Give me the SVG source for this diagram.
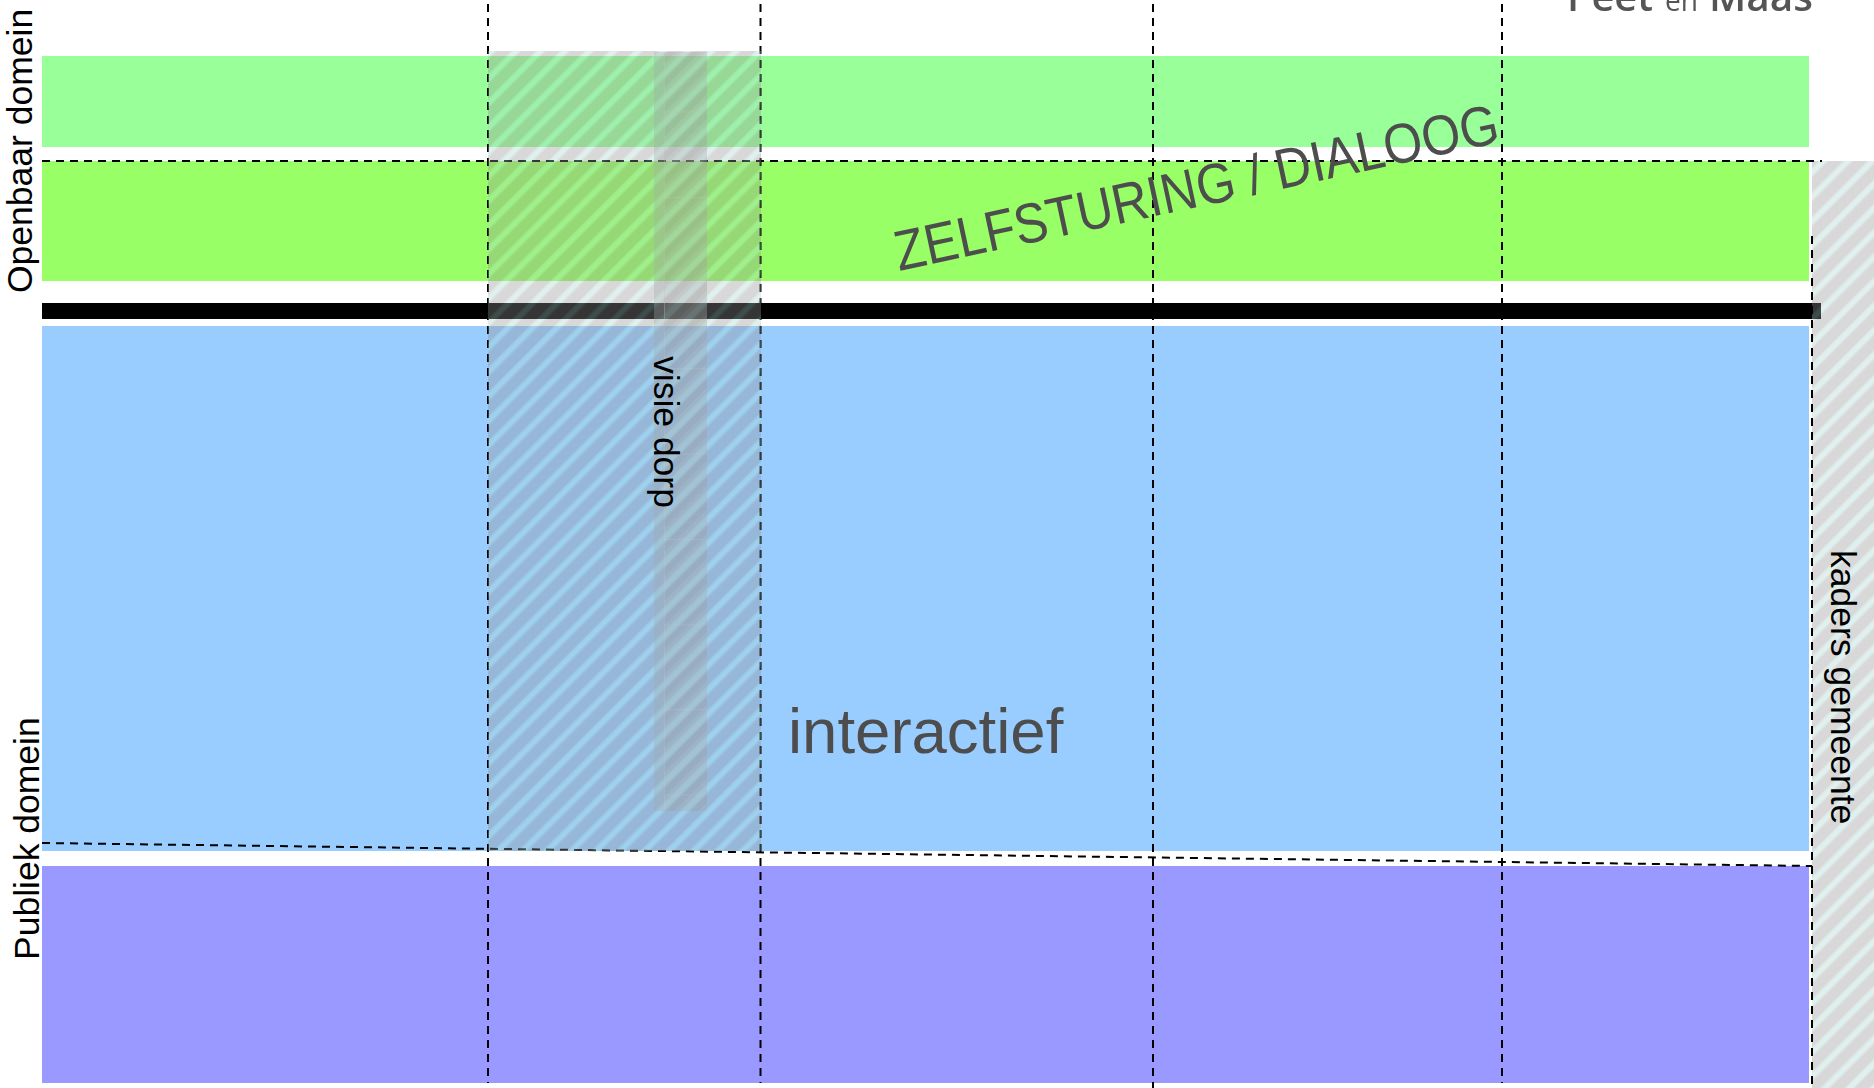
<svg xmlns="http://www.w3.org/2000/svg" width="1874" height="1088" viewBox="0 0 1874 1088">
<style>
.dash{fill:none;stroke:#000;stroke-width:2;stroke-dasharray:8 6}
.lbl{font-family:"Liberation Sans",Arial,sans-serif;font-size:35.5px;fill:#000}
.big{font-family:"Liberation Sans",Arial,sans-serif;fill:#4d4d4d}
.logo{font-family:"Open Sans","Noto Sans",sans-serif;fill:#555}
.cell{fill:none;stroke:#c4c4c4;stroke-width:1;opacity:.3}
</style>
<defs>
<pattern id="hatch" patternUnits="userSpaceOnUse" width="24" height="24" patternTransform="rotate(-45 0 0) scale(0.72)">
<rect width="24" height="24" fill="#939393"/>
<rect width="24" height="10" fill="#9eb8b4"/>
<rect y="2" width="24" height="6" fill="#a9d6d0"/>
</pattern>
<pattern id="hatch2" patternUnits="userSpaceOnUse" width="24" height="24" patternTransform="rotate(-45 0 0) scale(0.72)">
<rect width="24" height="24" fill="#c0c8c8"/>
<rect y="10" width="24" height="9" fill="#807878"/>
</pattern>
<filter id="soft" x="-5%" y="-50%" width="110%" height="200%"><feGaussianBlur stdDeviation="0.7"/></filter>
</defs>
<rect width="1874" height="1088" fill="#fff"/>
<g id="logo" filter="url(#soft)"><text class="logo" x="1567" y="11" font-size="39" font-weight="600" textLength="86" lengthAdjust="spacingAndGlyphs">Peet</text><text class="logo" x="1665" y="11" font-size="29" textLength="33" lengthAdjust="spacingAndGlyphs">en</text><text class="logo" x="1709" y="11" font-size="39" font-weight="600" textLength="104" lengthAdjust="spacingAndGlyphs">Maas</text></g>
<g id="bands">
<rect id="band-openbaar-1" x="42" y="56" width="1767" height="91" fill="#99ff99"/>
<rect id="band-openbaar-2" x="42" y="161" width="1767" height="120" fill="#99ff66"/>
<rect id="band-scheiding" x="42" y="303" width="1779" height="16" fill="#000"/>
<rect id="band-publiek-1" x="42" y="326" width="1767" height="525" fill="#99ccff"/>
<rect id="band-publiek-2" x="42" y="866" width="1767" height="217" fill="#9999ff"/>
</g>
<g id="kaders-gemeente">
<rect x="1812" y="161" width="62" height="927" fill="url(#hatch)" opacity=".36"/>
</g>
<g id="connectors">
<path class="dash" d="M488 4V1083"/>
<path class="dash" d="M760.5 4V1083"/>
<path class="dash" d="M1153 4V1088"/>
<path class="dash" d="M1502 4V1083"/>
<path class="dash" d="M42 161H1822"/>
<path class="dash" d="M42 843L1812 866"/>
<path class="dash" d="M1812 236V1088"/>
</g>
<g id="interactief-kolom">
<rect x="488" y="51" width="273" height="800" fill="url(#hatch)" opacity=".36"/>
</g>
<g id="visie-dorp">
<rect x="654" y="52" width="53" height="759" fill="#a0aaaa" opacity=".34"/>
<rect x="664" y="52" width="43" height="759" fill="url(#hatch2)" opacity=".09"/>
<path class="cell" d="M664.5 52V811M664 112H707M664 197.5H707M664 283H707M664 368.5H707M664 454H707M664 539.5H707M664 625H707M664 709.5H707M664 795H707"/>
<text class="lbl" transform="translate(654 356) rotate(90)">visie dorp</text>
</g>
<g id="labels">
<text class="lbl" transform="translate(32 293) rotate(-90)">Openbaar domein</text>
<text class="lbl" transform="translate(39 960) rotate(-90)">Publiek domein</text>
<text class="lbl" transform="translate(1831 550) rotate(90)">kaders gemeente</text>
<text class="big" x="788" y="753" font-size="63.5">interactief</text>
<text class="big" font-size="50" transform="translate(899 271) rotate(-12.1) scale(1 1.13)">ZELFSTURING / DIALOOG</text>
</g>
</svg>
